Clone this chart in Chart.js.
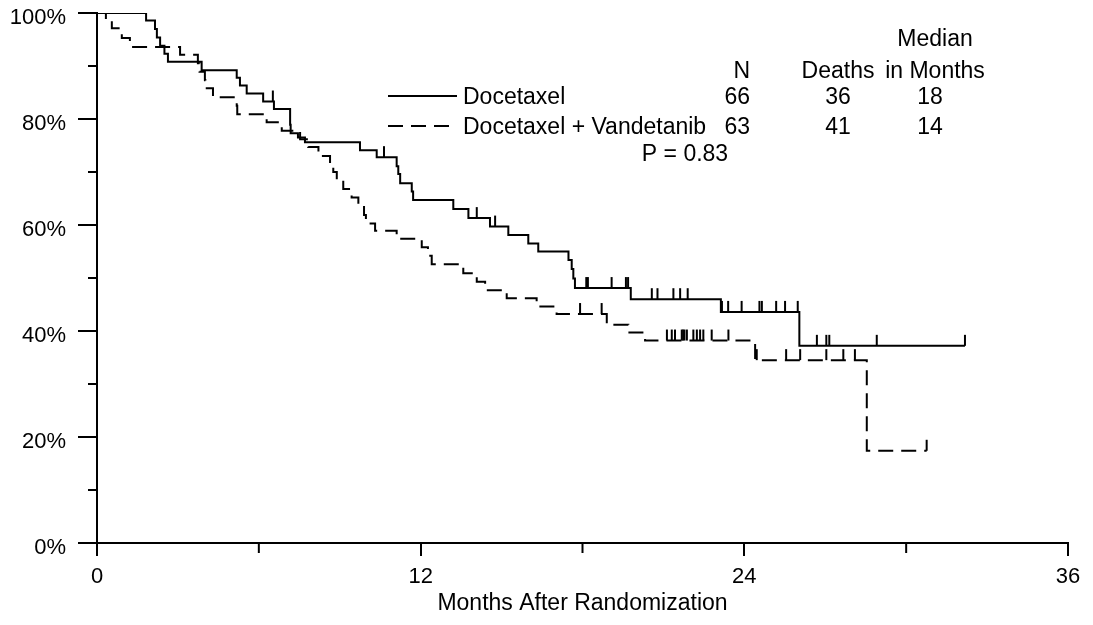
<!DOCTYPE html>
<html>
<head>
<meta charset="utf-8">
<script src="https://cdn.jsdelivr.net/npm/chart.js@4.4.0/dist/chart.umd.min.js"></script>
<style>
  html, body { margin: 0; padding: 0; background: #fff; }
  #wrap { width: 1093px; height: 625px; }
</style>
</head>
<body>
<div id="wrap"><canvas id="km"></canvas></div>
<script>
// Docetaxel: event times (months) and survival (%) after each drop
const docTimes = [0, 1.82, 2.15, 2.22, 2.34, 2.5, 2.63, 3.88, 5.18, 5.3, 5.55, 6.16, 6.56, 7.16, 7.18, 7.45, 7.71,
  9.75, 10.37, 11.11, 11.17, 11.24, 11.67, 11.72, 13.21, 13.77, 14.57, 15.25, 15.99, 16.36, 17.48, 17.6, 17.66, 17.72,
  19.79, 23.13, 26.04];
const docSurv = [100, 98.6, 97.0, 95.4, 93.8, 92.3, 90.8, 89.2, 87.8, 86.3, 84.8, 83.3, 81.9, 78.9, 77.3, 76.5, 75.6,
  74.1, 72.8, 71.1, 69.6, 67.9, 66.3, 64.7, 63.0, 61.3, 59.7, 58.1, 56.5, 55.0, 53.4, 51.7, 49.9, 48.1,
  46.0, 43.6, 37.2];
const docCensored = [6.52, 10.64, 14.08, 14.76, 18.14, 18.2, 19.08, 19.61, 19.69, 20.57, 20.78, 21.37, 21.62, 21.9,
  23.17, 23.4, 23.9, 24.56, 24.65, 25.18, 25.51, 25.98, 26.69, 27.04, 27.15, 28.91, 32.18];

// Docetaxel + Vandetanib
const vanTimes = [0, 0.33, 0.55, 0.92, 1.22, 3.08, 3.74, 3.8, 4.0, 4.02, 4.3, 5.18, 5.2, 6.29, 6.85, 7.53, 7.83,
  8.21, 8.64, 8.76, 8.89, 9.13, 9.44, 9.69, 9.9, 9.97, 10.31, 11.11, 12.04, 12.27, 12.41, 13.58, 14.08, 14.39,
  15.19, 16.3, 17.04, 18.9, 19.7, 20.32, 24.4, 28.54];
const vanSurv = [100, 98.7, 97.1, 95.3, 93.6, 92.1, 90.5, 88.9, 87.3, 85.8, 84.1, 82.5, 80.9, 79.4, 77.8, 76.2, 74.7,
  73.0, 71.5, 70.0, 68.4, 66.8, 65.2, 63.6, 61.9, 60.3, 58.9, 57.4, 55.8, 54.2, 52.6, 50.9, 49.3, 47.7,
  46.2, 44.6, 43.2, 41.2, 39.7, 38.2, 34.5, 17.4];
const vanCensored = [17.91, 18.71, 21.13, 21.31, 21.43, 21.68, 21.73, 21.78, 21.87, 22.11, 22.24, 22.36, 22.48,
  22.79, 23.41, 24.46, 25.55, 26.07, 27.04, 27.67, 28.1, 30.76];

const xTicks = [0, 12, 24, 36];
const xMinorTicks = [6, 18, 30];
const yMinorTicks = [10, 30, 50, 70, 90];

const legendHeader = ['N', 'Deaths', 'Median', 'in Months'];
const legendRows = [
  { name: 'Docetaxel', n: '66', deaths: '36', median: '18', dash: [] },
  { name: 'Docetaxel + Vandetanib', n: '63', deaths: '41', median: '14', dash: [15, 8] }
];
const pValue = 'P = 0.83';

const FONT = '"Liberation Sans", Arial, Helvetica, sans-serif';

const survAt = (times, surv, t) => {
  let s = surv[0];
  for (let i = 0; i < times.length; i++) if (times[i] <= t) s = surv[i];
  return s;
};

const curve = (times, surv, censored) => {
  const pts = times.map((t, i) => ({ x: t, y: surv[i] }));
  const last = Math.max(...censored);
  if (last > times[times.length - 1]) pts.push({ x: last, y: surv[surv.length - 1] });
  return pts;
};

const series = [
  { times: docTimes, surv: docSurv, censored: docCensored },
  { times: vanTimes, surv: vanSurv, censored: vanCensored }
];

const kmExtras = {
  id: 'kmExtras',
  afterDatasetsDraw(chart) {
    const { ctx, scales: { x, y } } = chart;
    ctx.save();
    ctx.strokeStyle = '#000';
    ctx.lineWidth = 2;
    ctx.setLineDash([]);
    series.forEach(s => {
      s.censored.forEach(t => {
        const px = x.getPixelForValue(t);
        const py = y.getPixelForValue(survAt(s.times, s.surv, t));
        ctx.beginPath();
        ctx.moveTo(px, py);
        ctx.lineTo(px, py - 11);
        ctx.stroke();
      });
    });
    ctx.restore();
  },
  afterDraw(chart) {
    const { ctx, scales: { x, y }, chartArea } = chart;
    ctx.save();
    ctx.strokeStyle = '#000';
    ctx.lineWidth = 2;
    // minor ticks
    xMinorTicks.forEach(v => {
      const px = x.getPixelForValue(v);
      ctx.beginPath();
      ctx.moveTo(px, chartArea.bottom);
      ctx.lineTo(px, chartArea.bottom + 10);
      ctx.stroke();
    });
    yMinorTicks.forEach(v => {
      const py = y.getPixelForValue(v);
      ctx.beginPath();
      ctx.moveTo(chartArea.left - 9, py);
      ctx.lineTo(chartArea.left, py);
      ctx.stroke();
    });

    // axis title
    ctx.fillStyle = '#000';
    ctx.font = '23px ' + FONT;
    ctx.textBaseline = 'middle';
    ctx.textAlign = 'center';
    ctx.fillText('Months After Randomization', (chartArea.left + chartArea.right) / 2, 604);

    // legend table
    ctx.textAlign = 'center';
    ctx.fillText(legendHeader[2], 935, 40);
    ctx.fillText(legendHeader[1], 838, 72);
    ctx.fillText(legendHeader[3], 935, 72);
    ctx.textAlign = 'right';
    ctx.fillText(legendHeader[0], 750, 72);

    legendRows.forEach((r, i) => {
      const ry = 98 + i * 30;
      ctx.setLineDash(r.dash);
      ctx.beginPath();
      ctx.moveTo(388, ry - 2);
      ctx.lineTo(457, ry - 2);
      ctx.stroke();
      ctx.setLineDash([]);
      ctx.textAlign = 'left';
      ctx.fillText(r.name, 463, ry);
      ctx.textAlign = 'right';
      ctx.fillText(r.n, 750, ry);
      ctx.textAlign = 'center';
      ctx.fillText(r.deaths, 838, ry);
      ctx.fillText(r.median, 930, ry);
    });
    ctx.textAlign = 'center';
    ctx.fillText(pValue, 685, 155);
    ctx.restore();
  }
};

new Chart(document.getElementById('km'), {
  type: 'line',
  data: {
    datasets: [
      {
        label: 'Docetaxel',
        data: curve(docTimes, docSurv, docCensored),
        borderColor: '#000',
        borderWidth: 2,
        stepped: 'before',
        pointRadius: 0,
        fill: false
      },
      {
        label: 'Docetaxel + Vandetanib',
        data: curve(vanTimes, vanSurv, vanCensored),
        borderColor: '#000',
        borderWidth: 2,
        borderDash: [15, 8],
        stepped: 'before',
        pointRadius: 0,
        fill: false
      }
    ]
  },
  options: {
    responsive: true,
    maintainAspectRatio: false,
    animation: false,
    devicePixelRatio: 1,
    layout: { padding: { left: 0, top: 13, right: 25, bottom: 0 } },
    plugins: { legend: { display: false }, tooltip: { enabled: false } },
    scales: {
      x: {
        type: 'linear',
        min: 0,
        max: 36,
        afterBuildTicks: scale => { scale.ticks = xTicks.map(v => ({ value: v })); },
        afterFit: scale => { scale.height = 82; },
        ticks: { color: '#000', font: { family: FONT, size: 22 }, padding: 8, maxRotation: 0 },
        grid: { drawOnChartArea: false, drawTicks: true, tickLength: 13, color: '#000', lineWidth: 2 },
        border: { display: true, color: '#000', width: 2 }
      },
      y: {
        min: 0,
        max: 100,
        afterFit: scale => {
          scale.width = 97;
          scale.paddingTop = 0;
          scale.paddingBottom = 0;
        },
        ticks: {
          stepSize: 20,
          color: '#000',
          font: { family: FONT, size: 22 },
          padding: 12,
          labelOffset: 5,
          callback: v => v + '%'
        },
        grid: { drawOnChartArea: false, drawTicks: true, tickLength: 19, color: '#000', lineWidth: 2 },
        border: { display: true, color: '#000', width: 2 }
      }
    }
  },
  plugins: [kmExtras]
});
</script>
</body>
</html>
